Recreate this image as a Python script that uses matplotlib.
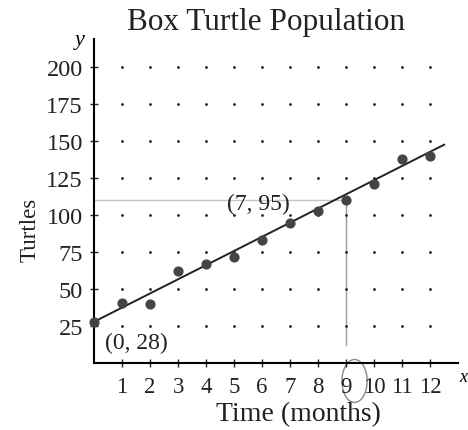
import matplotlib
matplotlib.use("Agg")
import matplotlib.pyplot as plt
import numpy as np
from matplotlib.patches import Ellipse

# ---- data ----
months = [0, 1, 2, 3, 4, 5, 6, 7, 8, 9, 10, 11, 12]
turtles = [28, 41, 40, 62, 67, 72, 83, 95, 103, 110, 121, 138, 140]
x_ticks = [1, 2, 3, 4, 5, 6, 7, 8, 9, 10, 11, 12]
y_ticks = [25, 50, 75, 100, 125, 150, 175, 200]
fit_x = [0, 12.5]
fit_intercept = 28
fit_slope = (95 - 28) / 7
labels = [("(0, 28)", 0, 28), ("(7, 95)", 7, 95)]

plt.rcParams['font.family'] = ['Liberation Serif', 'DejaVu Serif']
ink = '#222222'

fig = plt.figure(figsize=(4.68, 4.31), dpi=100)
ax = fig.add_axes([0.201, 0.155, 0.778, 0.752])
ax.set_xlim(0, 13)
ax.set_ylim(0, 219)

# dot grid
gx, gy = np.meshgrid(x_ticks, y_ticks)
ax.scatter(gx.ravel(), gy.ravel(), s=4, color=ink, zorder=2, linewidths=0)

# pencil marks
ax.plot([0, 9], [110, 110], color='#c4c4c4', lw=1.0, zorder=1)
ax.plot([9, 9], [110, 12], color='#9a9a9a', lw=1.0, zorder=1)
ax.add_patch(Ellipse((9.3, -12), 0.9, 29, fill=False, ec='#888888', lw=1.0,
                     clip_on=False))

# fit line
fx = np.array(fit_x)
ax.plot(fx, fit_intercept + fit_slope * fx, color=ink, lw=1.4, zorder=3)

# data points
ax.scatter(months, turtles, s=40, color='#444444', zorder=4, clip_on=False)

# point labels
ax.text(0.38, 14, labels[0][0], fontsize=17, ha='left', va='center', color=ink)
ax.text(7.0, 108, labels[1][0], fontsize=17, ha='right', va='center', color=ink)

# axes styling
for s in ['top', 'right']:
    ax.spines[s].set_visible(False)
ax.spines['left'].set_linewidth(1.5)
ax.spines['bottom'].set_linewidth(1.5)
ax.set_xticks(x_ticks)
ax.set_xticklabels([str(v) for v in x_ticks], fontsize=16.5)
ax.set_yticks(y_ticks)
ax.set_yticklabels([str(v) for v in y_ticks], fontsize=17.5)
ax.tick_params(axis='both', direction='inout', length=6, width=1, colors=ink)
ax.tick_params(axis='x', pad=6)
ax.tick_params(axis='y', pad=5)

ax.set_xlabel("Time (months)", fontsize=20, color=ink)
ax.xaxis.set_label_coords((298 - 94) / 364, (364 - 414) / 324)
ax.xaxis.label.set_va('center')
ax.set_ylabel("Turtles", fontsize=16.5, color=ink)
ax.yaxis.set_label_coords((30 - 94) / 364, (364 - 230) / 324)
ax.yaxis.label.set_va('center')

fig.text(266 / 468, 1 - 30 / 431, "Box Turtle Population", fontsize=22.5,
         ha='center', va='baseline', color=ink)

ax.text(-0.35, 219, "y", fontsize=16, style='italic', ha='right', va='center')
ax.text(13.02, -9, "x", fontsize=13, style='italic', ha='left', va='center',
        clip_on=False)

fig.savefig("out.png", dpi=100)
